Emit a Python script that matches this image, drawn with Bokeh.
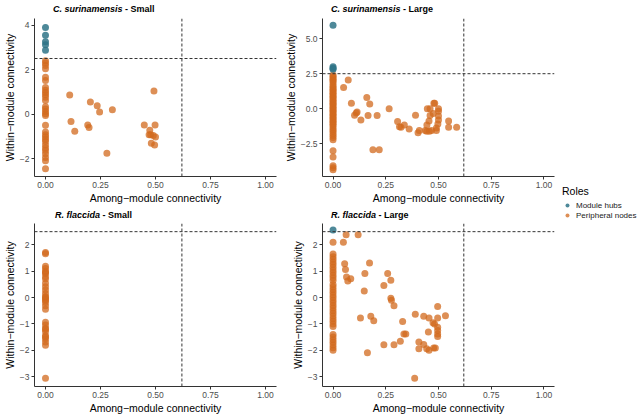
from bokeh.plotting import figure
from bokeh.models import FixedTicker, Span, Legend, LegendItem, ColumnDataSource, Div
from bokeh.layouts import row, column
from bokeh.embed import file_html
from bokeh.resources import INLINE

FONT = "Liberation Sans"

# ---------------- data ----------------
x_ticks = [0, 0.25, 0.5, 0.75, 1.0]
x_tick_labels = ["0.00", "0.25", "0.50", "0.75", "1.00"]

# Panel 1: C. surinamensis - Small
cs_small_hub_x = [0, 0, 0, 0, 0]
cs_small_hub_y = [3.9, 3.55, 3.25, 3.12, 2.87]
cs_small_per_x = [0] * 30 + [0.11, 0.116, 0.133, 0.204, 0.235, 0.246, 0.304, 0.192, 0.198, 0.279,
                             0.449, 0.493, 0.498, 0.474, 0.478, 0.49, 0.5, 0.481, 0.496, 0.471]
cs_small_per_y = [2.4, 2.30, 2.19, 2.04, 1.66, 1.51, 1.19, 1.07, 0.97, 0.87, 0.76, 0.61, 0.33, 0.23,
                  0.11, 0.01, -0.07, -0.5, -0.81, -0.93, -1.03, -1.13, -1.24, -1.39, -1.53, -1.64,
                  -1.79, -1.96, -2.1, -2.46,
                  0.86, -0.33, -0.77, 0.54, 0.37, 0.09, 0.19, -0.49, -0.61, -1.76,
                  -0.49, 1.04, -0.49, -0.73, -0.93, -0.96, -1.03, -1.31, -1.39, -0.93]
cs_small_y_ticks = [-2, 0, 2, 4]
cs_small_y_labels = ["\u22122", "0", "2", "4"]

# Panel 2: C. surinamensis - Large
cs_large_hub_x = [0, 0, 0, 0]
cs_large_hub_y = [5.95, 3.0, 2.89, 2.82]
cs_large_col_y = [2.4, 2.3, 2.2, 2.1, 2.0, 1.9, 1.75, 1.6, 1.5, 1.4, 1.3, 1.2, 1.1, 1.0, 0.9, 0.8,
                  0.7, 0.6, 0.5, 0.4, 0.3, 0.2, 0.1, 0.0, -0.1, -0.2, -0.3, -0.4, -0.5, -0.6, -0.7,
                  -0.8, -0.9, -1.0, -1.1, -1.2, -1.35, -1.5, -1.6, -1.75, -1.9, -2.05, -2.2,
                  -2.98, -3.43, -4.05, -4.2, -4.34]
cs_large_off_x = [0.072, 0.050, 0.087, 0.16, 0.174, 0.102, 0.11, 0.114, 0.132, 0.166, 0.209, 0.266,
                  0.189, 0.219, 0.306, 0.315, 0.322, 0.338, 0.361, 0.391, 0.403, 0.409, 0.437,
                  0.444, 0.457, 0.467, 0.447, 0.460, 0.478, 0.482, 0.5, 0.5, 0.5, 0.5, 0.497, 0.49,
                  0.475, 0.46, 0.455, 0.445, 0.49, 0.548, 0.548, 0.586]
cs_large_off_y = [2.05, 1.52, 0.39, 0.80, 0.34, -0.45, -0.30, -0.23, -0.80, -0.48, -0.48, 0.0,
                  -2.91, -2.91, -0.91, -1.27, -1.32, -1.16, -1.43, -0.45, -1.70, -1.55, -1.55,
                  -1.59, -1.59, -1.55, 0.0, 0.0, 0.39, 0.39, 0.0, -0.18, -0.52, -0.80, -1.09, -1.36,
                  -0.34, -0.48, -0.86, -1.16, -1.55, -0.86, -1.32, -1.32]
cs_large_per_x = [0] * len(cs_large_col_y) + cs_large_off_x
cs_large_per_y = cs_large_col_y + cs_large_off_y
cs_large_y_ticks = [-2.5, 0, 2.5, 5.0]
cs_large_y_labels = ["\u22122.5", "0.0", "2.5", "5.0"]

# Panel 3: R. flaccida - Small
rf_small_hub_x = []
rf_small_hub_y = []
rf_small_per_y = [1.71, 1.66, 1.19, 1.1, 1.0, 0.95, 0.91, 0.79, 0.7, 0.54, 0.41, 0.29, 0.15, 0.04,
                  0.0, -0.06, -0.1, -0.19, -0.31, -0.44, -0.94, -1.04, -1.16, -1.2, -1.29, -1.44,
                  -1.5, -1.56, -1.69, -1.81, -3.06]
rf_small_per_x = [0] * len(rf_small_per_y)
rf_y_ticks = [-3, -2, -1, 0, 1, 2]
rf_y_labels = ["\u22123", "\u22122", "\u22121", "0", "1", "2"]

# Panel 4: R. flaccida - Large
rf_large_hub_x = [0]
rf_large_hub_y = [2.56]
rf_large_col_y = [2.1, 1.65, 1.55, 1.45, 1.35, 1.25, 1.15, 1.05, 0.95, 0.85, 0.75, 0.65, 0.5, 0.4,
                  0.3, 0.2, 0.1, 0.0, -0.1, -0.2, -0.3, -0.4, -0.5, -0.6, -0.7, -0.8, -0.9, -1.0,
                  -1.1, -1.4, -1.5, -1.6, -1.7, -1.8, -1.9, -2.0]
rf_large_off_x = [0.062, 0.119, 0.049, 0.055, 0.059, 0.064, 0.07, 0.084, 0.173, 0.151, 0.148, 0.130,
                  0.179, 0.193, 0.163, 0.259, 0.274, 0.241, 0.274, 0.277, 0.289, 0.241, 0.289,
                  0.319, 0.330, 0.336, 0.345, 0.390, 0.387, 0.407, 0.407, 0.43, 0.43, 0.455, 0.452,
                  0.444, 0.455, 0.474, 0.481, 0.477, 0.485, 0.496, 0.496, 0.496, 0.496, 0.496,
                  0.496, 0.533]
rf_large_off_y = [2.38, 2.38, 2.1, 1.28, 1.06, 0.78, 0.63, 0.71, 1.31, 0.91, 0.25, -0.78, -0.71,
                  -0.88, -2.09, 0.91, 0.66, 0.46, -0.03, -0.1, -0.31, -1.79, -1.79, -1.66, -0.91,
                  -1.38, -1.38, -0.63, -3.06, -1.69, -1.94, -1.78, -0.71, -0.78, -1.31, -1.94, -2.0,
                  -0.96, -1.0, -1.91, -1.91, -0.34, -0.78, -1.13, -1.25, -1.38, -1.48, -0.69]
rf_large_per_x = [0] * len(rf_large_col_y) + rf_large_off_x
rf_large_per_y = rf_large_col_y + rf_large_off_y

x_threshold = 0.62
y_threshold = 2.5

role_labels = ["Module hubs", "Peripheral nodes"]

HUB_COLOR = "#2F7487"
PER_COLOR = "#D2691E"
AXIS_COLOR = "#333333"
TICK_TEXT = "#4D4D4D"


def make_title(title_it, title_rest, width, height, indent):
    html = ('<div style="margin-left:%dpx; font-family:\'%s\'; font-size:9px; font-weight:bold; '
            'line-height:%dpx; white-space:nowrap; color:black">'
            '<i>%s</i> - %s</div>') % (indent, FONT, height, title_it, title_rest)
    return Div(text=html, width=width, height=height, margin=0)


def make_panel(hub_x, hub_y, per_x, per_y, y_ticks, y_labels, y_range,
               width, height, bl, br, bt, bb):
    p = figure(width=width, height=height, x_range=(-0.05, 1.05), y_range=y_range,
               output_backend="svg", toolbar_location=None,
               min_border_left=bl, min_border_right=br, min_border_top=bt, min_border_bottom=bb)
    p.outline_line_color = None
    p.xgrid.visible = False
    p.ygrid.visible = False
    p.background_fill_color = "white"
    p.border_fill_color = "white"

    p.scatter(per_x, per_y, size=7, fill_color=PER_COLOR, fill_alpha=0.75, line_color=None)
    if hub_x:
        p.scatter(hub_x, hub_y, size=7, fill_color=HUB_COLOR, fill_alpha=0.85, line_color=None)

    p.add_layout(Span(location=x_threshold, dimension="height", line_dash="3 2",
                      line_color=AXIS_COLOR, line_width=1))
    p.add_layout(Span(location=y_threshold, dimension="width", line_dash="3 2",
                      line_color=AXIS_COLOR, line_width=1))

    p.xaxis.ticker = FixedTicker(ticks=x_ticks)
    p.xaxis.major_label_overrides = dict(zip(x_ticks, x_tick_labels))
    p.yaxis.ticker = FixedTicker(ticks=y_ticks)
    p.yaxis.major_label_overrides = dict(zip(y_ticks, y_labels))
    p.xaxis.axis_label = "Among\u2212module connectivity"
    p.yaxis.axis_label = "Within\u2212module connectivity"
    for ax in (p.xaxis[0], p.yaxis[0]):
        ax.axis_line_color = AXIS_COLOR
        ax.major_tick_line_color = AXIS_COLOR
        ax.minor_tick_line_color = None
        ax.major_tick_out = 3
        ax.major_tick_in = 0
        ax.major_label_text_font = FONT
        ax.major_label_text_font_size = "8.5px"
        ax.major_label_text_color = TICK_TEXT
        ax.major_label_standoff = 2
        ax.axis_label_text_font = FONT
        ax.axis_label_text_font_size = "10.5px"
        ax.axis_label_text_font_style = "normal"
        ax.axis_label_text_color = "black"
        ax.axis_label_standoff = 1
    return p


t1 = make_title("C. surinamensis", "Small", 281, 14, 53)
t2 = make_title("C. surinamensis", "Large", 277, 14, 50)
t3 = make_title("R. flaccida", "Small", 281, 14, 55)
t4 = make_title("R. flaccida", "Large", 277, 14, 50)

p1 = make_panel(cs_small_hub_x, cs_small_hub_y, cs_small_per_x, cs_small_per_y,
                cs_small_y_ticks, cs_small_y_labels, (-2.81, 4.30), 281, 192, 28, 5, 4, 23)
p2 = make_panel(cs_large_hub_x, cs_large_hub_y, cs_large_per_x, cs_large_per_y,
                cs_large_y_ticks, cs_large_y_labels, (-4.82, 6.43), 277, 192, 32, 4, 4, 23)
p3 = make_panel(rf_small_hub_x, rf_small_hub_y, rf_small_per_x, rf_small_per_y,
                rf_y_ticks, rf_y_labels, (-3.375, 2.81), 281, 196, 28, 5, 3, 28)
p4 = make_panel(rf_large_hub_x, rf_large_hub_y, rf_large_per_x, rf_large_per_y,
                rf_y_ticks, rf_y_labels, (-3.375, 2.81), 277, 196, 26, 4, 3, 28)

# legend panel
lf = figure(width=80, height=416, x_range=(0, 1), y_range=(0, 1), output_backend="svg",
            toolbar_location=None, x_axis_type=None, y_axis_type=None, min_border=0)
lf.outline_line_color = None
lf.xgrid.visible = False
lf.ygrid.visible = False
hidden = ColumnDataSource(data=dict(x=[-10], y=[-10]))
r_hub = lf.scatter("x", "y", source=hidden, size=7, fill_color=HUB_COLOR, fill_alpha=0.85,
                   line_color=None)
r_per = lf.scatter("x", "y", source=hidden, size=7, fill_color=PER_COLOR, fill_alpha=0.75,
                   line_color=None)
legend = Legend(items=[LegendItem(label=role_labels[0], renderers=[r_hub]),
                       LegendItem(label=role_labels[1], renderers=[r_per])],
                title="Roles", location=(4, 196), padding=0, margin=0, spacing=0,
                glyph_width=10, glyph_height=10, label_height=10, label_standoff=4,
                title_standoff=3, border_line_color=None, background_fill_alpha=0,
                label_text_font=FONT, label_text_font_size="8px", label_text_color="#1A1A1A",
                title_text_font=FONT, title_text_font_size="10.5px",
                title_text_font_style="normal", title_text_color="black")
lf.add_layout(legend)

layout = row(column(t1, p1, t3, p3), column(t2, p2, t4, p4), lf)

open("out.html", "w").write(file_html(layout, INLINE))
